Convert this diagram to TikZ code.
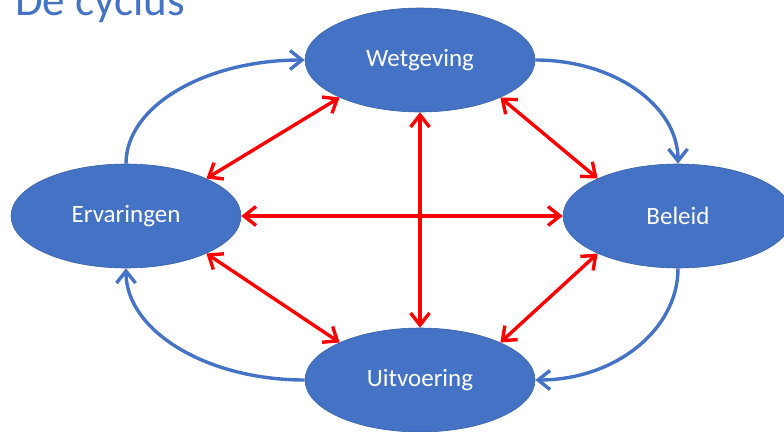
\documentclass[tikz,border=0pt]{standalone}
\usepackage{fontspec}
\setmainfont{Carlito}
\usetikzlibrary{arrows.meta,shapes.geometric}
\definecolor{obl}{HTML}{4472C4}
\definecolor{obd}{HTML}{3A62A8}
\definecolor{ored}{HTML}{FF0000}
\tikzset{
  ell/.style={ellipse, draw=obd, line width=0.6pt, fill=obl, minimum width=230pt, minimum height=104pt, inner sep=0pt, text=white, font=\fontsize{25}{30}\selectfont},
  redarr/.style={draw=ored, line width=3.4pt, {Straight Barb[length=12pt,width=19pt]}-{Straight Barb[length=12pt,width=19pt]}},
  bluearr/.style={draw=obl, line width=3.4pt, -{Straight Barb[length=12pt,width=19pt]}}
}
\begin{document}
\begin{tikzpicture}[x=1pt,y=-1pt]
\useasboundingbox[fill=white] (0,0) rectangle (784,431);
\node[anchor=base west, text=obl, font=\fontsize{45}{54}\selectfont, inner sep=0pt] (title) at (15,15) {De cyclus};
\node[ell] (w) at (420,60) {Wetgeving};
\node[ell] (e) at (126,216) {Ervaringen};
\node[ell] (b) at (678,216) {Beleid};
\node[ell] (u) at (420,380) {Uitvoering};
% red double arrows
\draw[redarr] (e.east) -- (b.west);
\draw[redarr] (w.south) -- (u.north);
\draw[redarr] (w.205) -- (e.25);
\draw[redarr] (w.335) -- (b.155);
\draw[redarr] (e.335) -- (u.155);
\draw[redarr] (b.205) -- (u.25);
% blue cycle arrows
\draw[bluearr] (e.north) .. controls +(0,-58) and +(-99,0) .. (w.west);
\draw[bluearr] (w.east) .. controls +(79,0) and +(0,-58) .. (b.north);
\draw[bluearr] (b.south) .. controls +(0,62) and +(79,0) .. (u.east);
\draw[bluearr] (u.west) .. controls +(-99,0) and +(0,62) .. (e.south);
\end{tikzpicture}
\end{document}
